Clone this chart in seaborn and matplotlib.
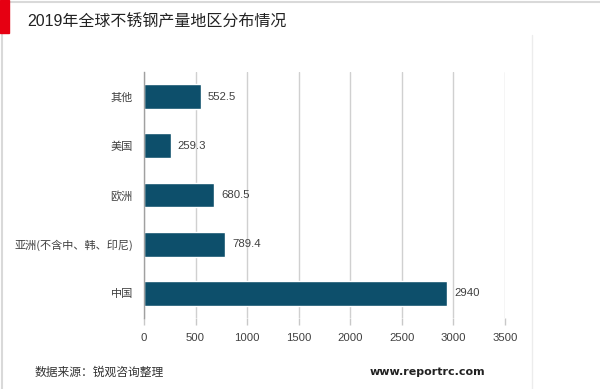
import matplotlib
matplotlib.use("Agg")
import matplotlib.pyplot as plt
import seaborn as sns
import pandas as pd
from matplotlib.patches import Rectangle
from matplotlib.lines import Line2D

categories = ["其他", "美国", "欧洲", "亚洲(不含中、韩、印尼)", "中国"]
values = [552.5, 259.3, 680.5, 789.4, 2940]
labels = ["552.5", "259.3", "680.5", "789.4", "2940"]
xticks = [0, 500, 1000, 1500, 2000, 2500, 3000, 3500]

sns.set_theme(style="white")
plt.rcParams['font.family'] = ['Liberation Sans', 'Noto Sans CJK SC', 'DejaVu Sans']

df = pd.DataFrame({"region": categories, "value": values})

W, H = 600, 389
fig = plt.figure(figsize=(6, 3.89), dpi=100)
ax = fig.add_axes([144 / W, 1 - 318 / H, (505 - 144) / W, (318 - 72) / H])

sns.barplot(data=df, x="value", y="region", orient="h", color="#0d4f6b",
            saturation=1, width=0.5, ax=ax)

ax.set_xlim(0, 3500)
ax.set_ylim(4.5, -0.5)
ax.set_xticks(xticks)
ax.set_xticklabels([str(t) for t in xticks], fontsize=8.2, color="#404040")
for t in ax.get_yticklabels():
    t.set_family(['Noto Sans CJK SC', 'DejaVu Sans'])
ax.tick_params(axis="y", labelsize=8, labelcolor="#404040", length=0, pad=8)
ax.tick_params(axis="x", length=5, color="#c8c8c8", width=1, pad=6, direction="out", bottom=True)
ax.set_xlabel("")
ax.set_ylabel("")
ax.grid(axis="x", color="#d0d0d0", linewidth=1)
ax.set_axisbelow(True)
for s in ["top", "right", "bottom"]:
    ax.spines[s].set_visible(False)
ax.spines["left"].set_color("#a0a0a0")
ax.spines["left"].set_linewidth(1)

for i, (v, lab) in enumerate(zip(values, labels)):
    ax.text(v + 68, i, lab, va="center", ha="left", fontsize=8.2, color="#404040")

# decorations
fig.add_artist(Rectangle((0, 1 - 33 / H), 9 / W, 33 / H, transform=fig.transFigure,
                         color="#e60012", zorder=5))
fig.add_artist(Line2D([0, 1], [1 - 1.5 / H, 1 - 1.5 / H], transform=fig.transFigure,
                      color="#d9d9d9", linewidth=1.5))
fig.add_artist(Line2D([2 / W, 2 / W], [0, 1], transform=fig.transFigure,
                      color="#d9d9d9", linewidth=1.5))
fig.add_artist(Line2D([532 / W, 532 / W], [0, 1 - 35 / H], transform=fig.transFigure,
                      color="#ececec", linewidth=1))

fig.text(27 / W, 1 - 22 / H, "2019年全球不锈钢产量地区分布情况", fontsize=11.5,
         color="#222222", va="center", ha="left", family=['Liberation Sans', 'Noto Sans CJK SC'])
fig.text(35 / W, 1 - 372 / H, "数据来源：锐观咨询整理", fontsize=8.5,
         color="#333333", va="center", ha="left", family=['Noto Sans CJK SC'])
fig.text(370 / W, 1 - 372 / H, "www.reportrc.com", fontsize=8, fontweight="bold",
         color="#222222", va="center", ha="left", family=['DejaVu Sans'])

fig.savefig("out.png", dpi=100)
